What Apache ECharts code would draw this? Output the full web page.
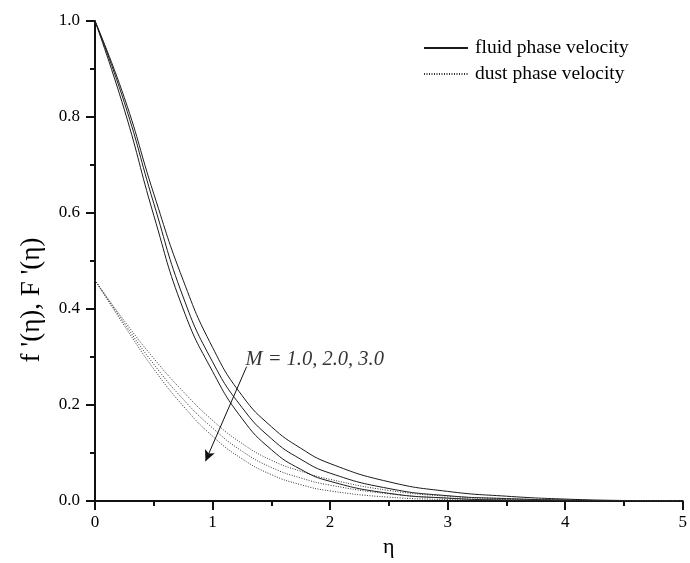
<!DOCTYPE html>
<html>
<head>
<meta charset="utf-8">
<script src="https://cdn.jsdelivr.net/npm/echarts@6/dist/echarts.min.js"></script>
<style>
html,body{margin:0;padding:0;background:#fff;}
#main{width:690px;height:563px;}
</style>
</head>
<body>
<div id="main"></div>
<script>
// eta grid shared by every curve
var eta = [0, 0.25, 0.5, 0.75, 1.0, 1.25, 1.5, 1.75, 2.0, 2.5, 3.0, 3.5, 4.0, 4.5, 5.0];

// fluid phase velocity f'(eta), M = 1, 2, 3
var fluidM1 = [1.0, 0.84, 0.64, 0.46, 0.32, 0.22, 0.155, 0.11, 0.078, 0.04, 0.02, 0.01, 0.004, 0.001, 0];
var fluidM2 = [1.0, 0.83, 0.62, 0.425, 0.29, 0.195, 0.13, 0.087, 0.058, 0.026, 0.011, 0.005, 0.002, 0.0005, 0];
var fluidM3 = [1.0, 0.815, 0.595, 0.40, 0.27, 0.172, 0.107, 0.066, 0.041, 0.016, 0.006, 0.002, 0.001, 0, 0];

// dust phase velocity F'(eta), M = 1, 2, 3
var dustM1 = [0.46, 0.375, 0.297, 0.228, 0.168, 0.12, 0.085, 0.062, 0.045, 0.022, 0.01, 0.005, 0.002, 0.001, 0];
var dustM2 = [0.46, 0.37, 0.285, 0.212, 0.152, 0.104, 0.07, 0.048, 0.033, 0.015, 0.006, 0.003, 0.001, 0, 0];
var dustM3 = [0.46, 0.365, 0.275, 0.198, 0.135, 0.088, 0.055, 0.034, 0.021, 0.008, 0.003, 0.001, 0, 0, 0];

// annotation: arrow from text toward increasing M
var arrowFrom = [1.29, 0.28];
var arrowTo = [0.94, 0.083];
var noteAt = [1.28, 0.294];
var noteText = 'M = 1.0, 2.0, 3.0';

var serif = 'Liberation Serif';

function pairs(ys){
    var out = [];
    for (var i = 0; i < eta.length; i++) out.push([eta[i], ys[i]]);
    return out;
}

function curve(name, ys, dotted){
    return {
        name: name,
        type: 'line',
        data: pairs(ys),
        symbol: 'none',
        smooth: 0.5,
        silent: true,
        itemStyle: {color: 'rgba(0,0,0,0)'},
        lineStyle: dotted
            ? {color: '#333', width: 1, type: [1, 1.5]}
            : {color: '#1a1a1a', width: 1, type: 'solid'}
    };
}

var myChart = echarts.init(document.getElementById('main'));
var option = {
    animation: false,
    backgroundColor: '#fff',
    grid: {left: 95, right: 4, top: 21, bottom: 62, containLabel: false},
    legend: {
        orient: 'vertical',
        left: 423,
        top: 38,
        padding: 0,
        itemWidth: 44,
        itemHeight: 10,
        itemGap: 6,
        selectedMode: false,
        data: ['fluid phase velocity', 'dust phase velocity'],
        textStyle: {fontFamily: serif, fontSize: 19.5, color: '#000', padding: [0, 0, 0, 2]}
    },
    xAxis: {
        type: 'value',
        min: 0, max: 5, interval: 1,
        name: 'η',
        nameLocation: 'middle',
        nameGap: 33,
        nameTextStyle: {fontFamily: serif, fontSize: 22, color: '#000'},
        axisLine: {show: true, onZero: false, lineStyle: {color: '#111', width: 2}},
        axisTick: {show: true, inside: false, length: 9, lineStyle: {color: '#111', width: 2}},
        minorTick: {show: true, splitNumber: 2, length: 5, lineStyle: {color: '#111', width: 2}},
        splitLine: {show: false},
        axisLabel: {fontFamily: serif, fontSize: 17, color: '#000', margin: 13}
    },
    yAxis: {
        type: 'value',
        min: 0, max: 1, interval: 0.2,
        name: "f '(η), F '(η)",
        nameLocation: 'middle',
        nameGap: 50,
        nameRotate: 90,
        nameTextStyle: {fontFamily: serif, fontSize: 27, color: '#000', padding: [0, 0, 0, -78]},
        axisLine: {show: true, onZero: false, lineStyle: {color: '#111', width: 2}},
        axisTick: {show: true, inside: false, length: 9, lineStyle: {color: '#111', width: 2}},
        minorTick: {show: true, splitNumber: 2, length: 5, lineStyle: {color: '#111', width: 2}},
        splitLine: {show: false},
        axisLabel: {
            fontFamily: serif, fontSize: 17, color: '#000', margin: 15,
            formatter: function(v){ return v.toFixed(1); }
        }
    },
    series: [
        curve('fluid phase velocity', fluidM1, false),
        curve('fluid phase velocity', fluidM2, false),
        curve('fluid phase velocity', fluidM3, false),
        curve('dust phase velocity', dustM1, true),
        curve('dust phase velocity', dustM2, true),
        curve('dust phase velocity', dustM3, true),
        {
            name: 'note',
            type: 'scatter',
            data: [noteAt],
            symbolSize: 0,
            silent: true,
            label: {
                show: true,
                position: 'right',
                distance: 0,
                formatter: noteText,
                fontFamily: serif,
                fontStyle: 'italic',
                fontSize: 20.5,
                color: '#000'
            },
            markLine: {
                silent: true,
                symbol: ['none', 'arrow'],
                symbolSize: [8, 11],
                label: {show: false},
                lineStyle: {color: '#111', width: 1, type: 'solid'},
                data: [[{coord: arrowFrom}, {coord: arrowTo}]]
            }
        }
    ]
};
myChart.setOption(option);
</script>
</body>
</html>
